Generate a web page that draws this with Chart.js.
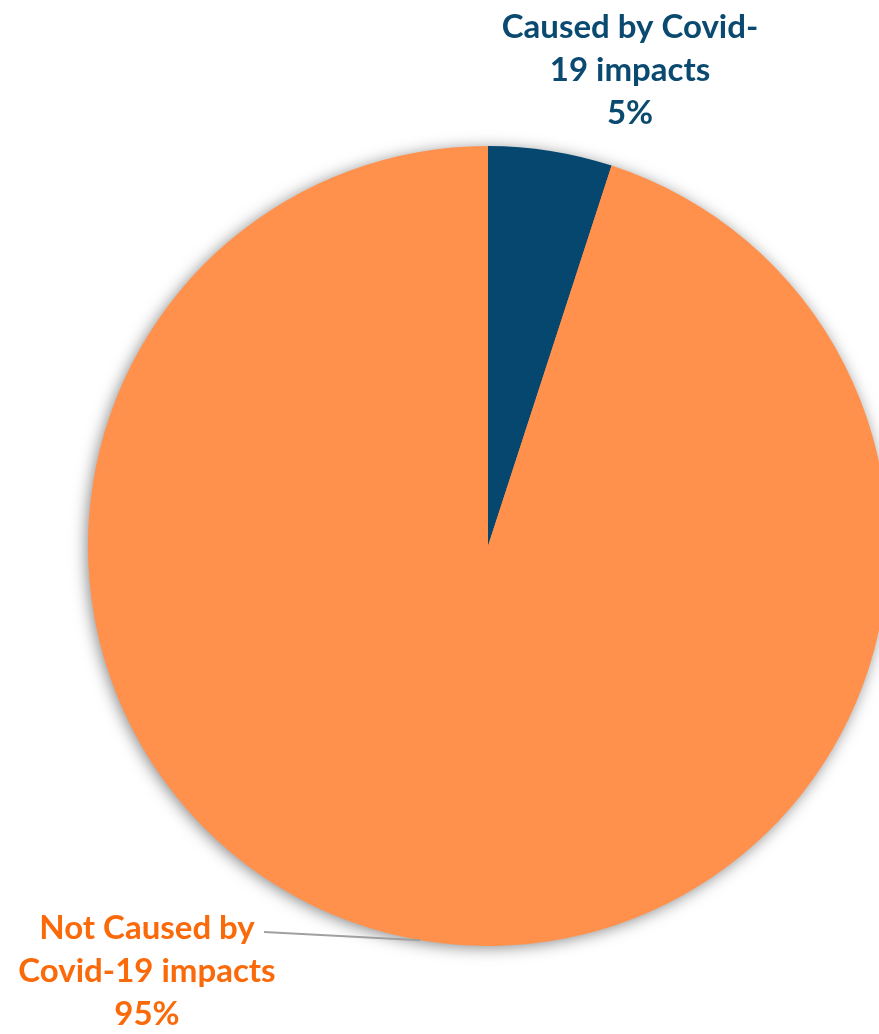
<!DOCTYPE html>
<html>
<head>
<meta charset="utf-8">
<script src="https://cdn.jsdelivr.net/npm/chart.js@4.4.1/dist/chart.umd.min.js"></script>
<style>
  html, body { margin: 0; padding: 0; background: #fff; overflow: hidden; }
  #wrap { width: 976px; height: 1034px; }
</style>
</head>
<body>
<div id="wrap"><canvas id="grafico" width="976" height="1034"></canvas></div>
<script>
const categorias = ["Caused by Covid-19 impacts", "Not Caused by Covid-19 impacts"];
const linhasRotulo = [["Caused by Covid-", "19 impacts"], ["Not Caused by", "Covid-19 impacts"]];
const valores = [5, 95];
const coresFatia = ["#06476F", "#FF914D"];
const coresTexto = ["#0B4A70", "#FA6A0A"];

// sombra suave por baixo da pizza inteira
const sombraPizza = {
  id: "sombraPizza",
  beforeDatasetsDraw(chart) {
    const arco = chart.getDatasetMeta(0).data[0];
    if (!arco) return;
    const ctx = chart.ctx;
    ctx.save();
    ctx.shadowColor = "rgba(0,0,0,0.5)";
    ctx.shadowBlur = 16;
    ctx.shadowOffsetX = -2;
    ctx.shadowOffsetY = 2;
    ctx.fillStyle = "#FF914D";
    ctx.beginPath();
    ctx.arc(arco.x, arco.y, arco.outerRadius - 1, 0, Math.PI * 2);
    ctx.fill();
    ctx.restore();
  }
};

// rótulos com nome e percentual, e a linha guia da fatia grande
const rotulos = {
  id: "rotulos",
  afterDatasetsDraw(chart, args, opts) {
    const ctx = chart.ctx;
    const total = valores.reduce((a, b) => a + b, 0);
    ctx.save();
    ctx.font = "bold 33px Lato, 'Open Sans', sans-serif";
    ctx.textAlign = "center";
    ctx.textBaseline = "middle";
    opts.posicoes.forEach((p, i) => {
      const linhas = linhasRotulo[i].concat([Math.round(valores[i] / total * 100) + "%"]);
      ctx.fillStyle = coresTexto[i];
      linhas.forEach((t, j) => ctx.fillText(t, p.x, p.y + j * 43));
    });

    // linha guia até a borda da fatia laranja
    const arco = chart.getDatasetMeta(0).data[1];
    const ang = Math.PI * 0.5 + 0.17;
    ctx.strokeStyle = "#A0A0A0";
    ctx.lineWidth = 2;
    ctx.beginPath();
    ctx.moveTo(264, 932);
    ctx.lineTo(arco.x + Math.cos(ang) * arco.outerRadius, arco.y + Math.sin(ang) * arco.outerRadius);
    ctx.stroke();
    ctx.restore();
  }
};

new Chart(document.getElementById("grafico"), {
  type: "pie",
  data: {
    labels: categorias,
    datasets: [{
      data: valores,
      backgroundColor: coresFatia,
      borderWidth: 0
    }]
  },
  options: {
    responsive: false,
    animation: false,
    layout: { padding: { top: 146, bottom: 88, left: 0, right: 0 } },
    plugins: {
      legend: { display: false },
      tooltip: { enabled: false },
      rotulos: {
        posicoes: [{ x: 630, y: 27 }, { x: 147, y: 928 }]
      }
    }
  },
  plugins: [sombraPizza, rotulos]
});
</script>
</body>
</html>
